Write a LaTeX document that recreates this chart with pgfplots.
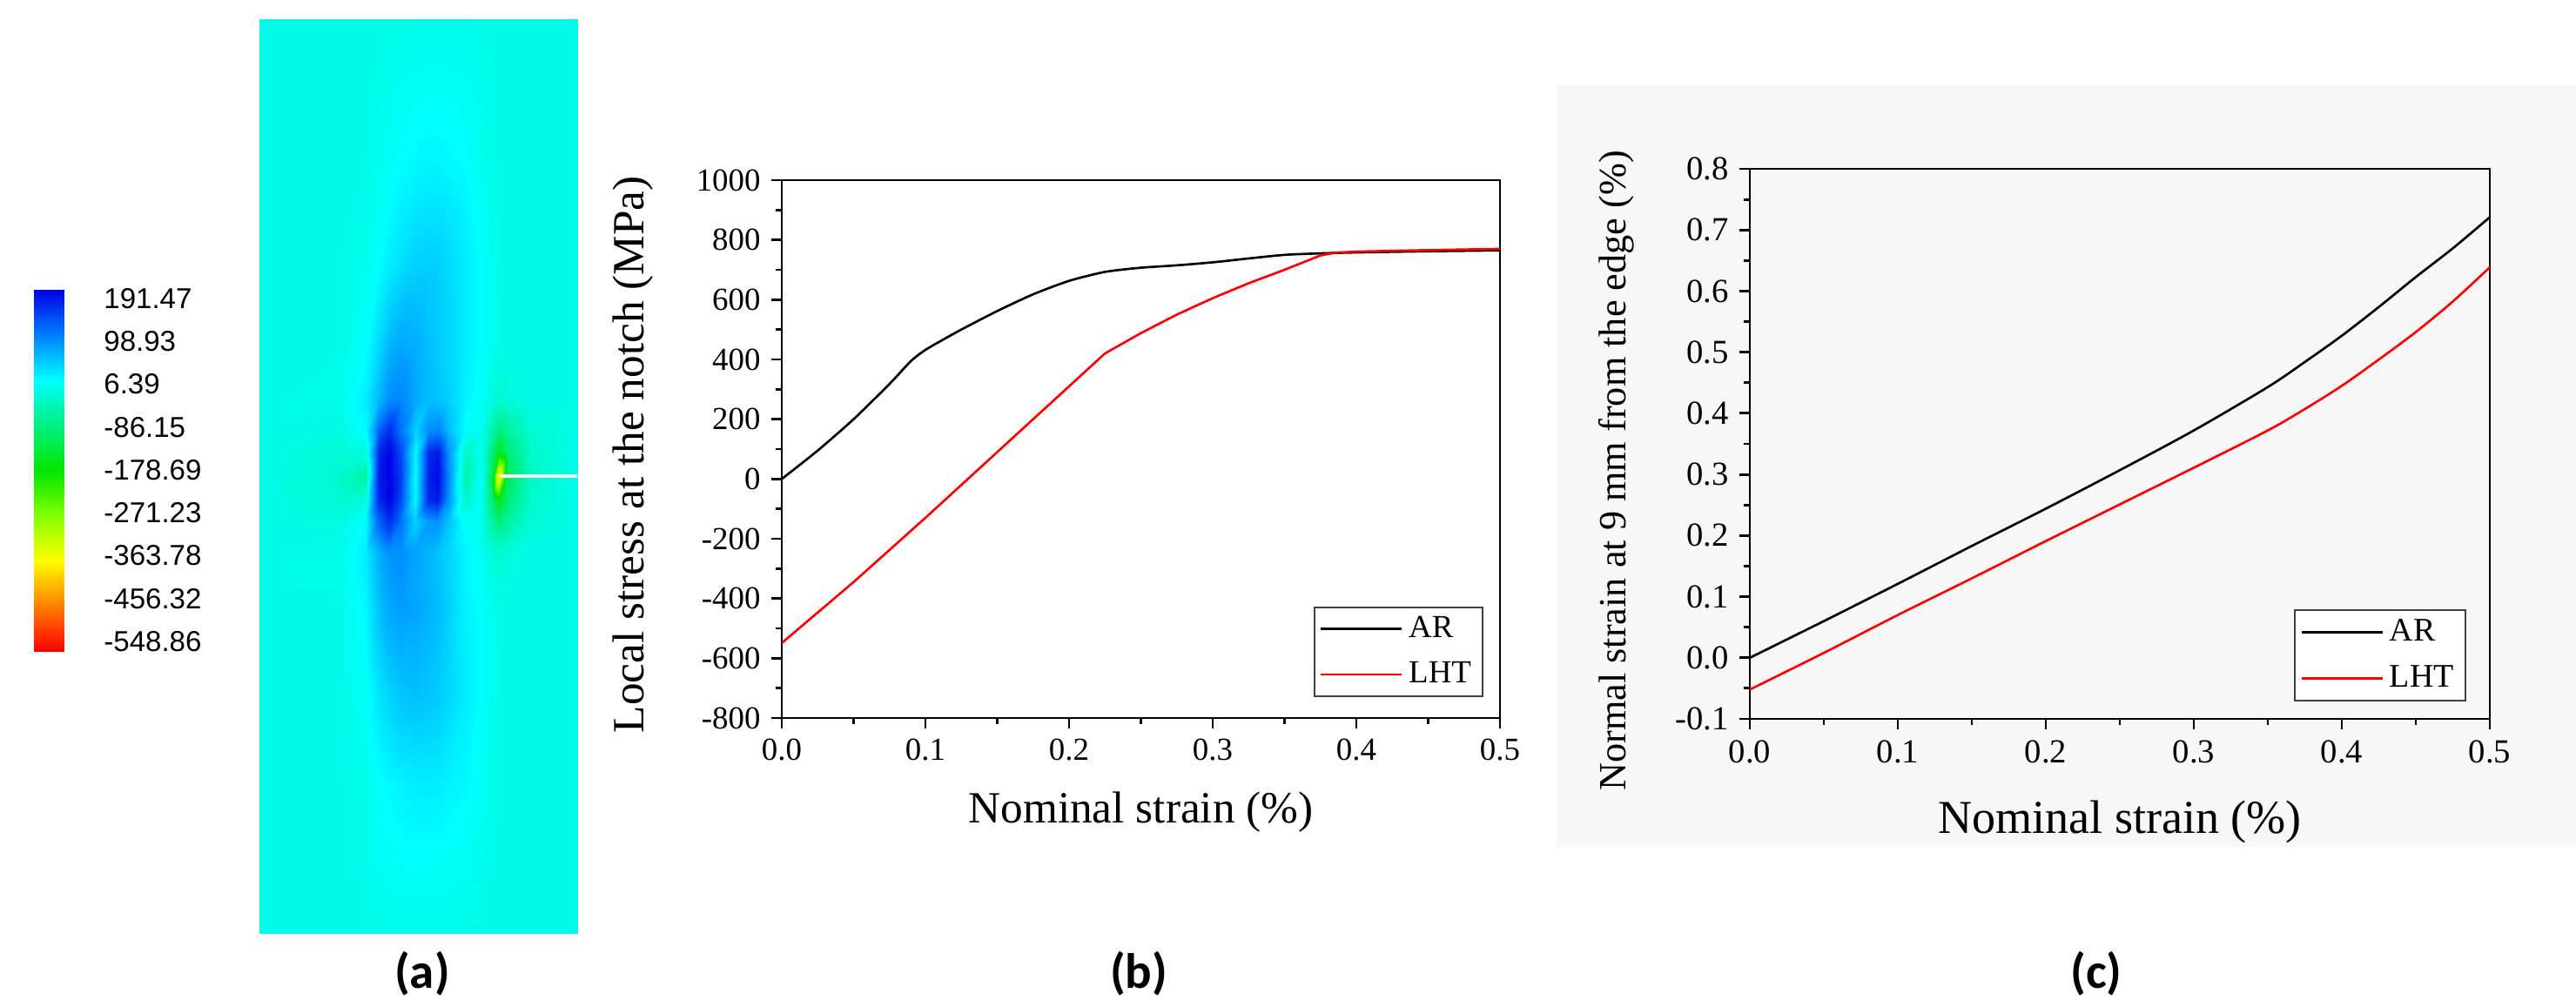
\documentclass[border=0pt]{standalone}
\usepackage{pgfplots}
\pgfplotsset{compat=1.18}
\usepackage{fontspec}
\setmainfont{Liberation Serif}
\newfontfamily\arial{Liberation Sans}
\newfontfamily\calibri{Carlito}

\pgfplotsset{
  colormap={fea}{rgb255=(255,0,0) rgb255=(255,128,0) rgb255=(255,255,0)
    rgb255=(128,255,0) rgb255=(0,230,0) rgb255=(0,240,128)
    rgb255=(0,255,255) rgb255=(0,128,255) rgb255=(0,0,230)},
  strainplot/.style={
    scale only axis, anchor=south west,
    xmin=0, xmax=0.5, xtick={0,0.1,0.2,0.3,0.4,0.5},
    minor tick num=1, tick align=outside,
    xtick pos=left, ytick pos=left,
    axis line style={line width=0.8pt},
    every tick/.append style={black, line width=0.8pt},
    major tick length=0.12cm, minor tick length=0.07cm,
    /pgf/number format/assume math mode=true,
    /pgf/number format/1000 sep={},
    xticklabel style={/pgf/number format/.cd, fixed, fixed zerofill, precision=1},
    legend cell align=left,
    legend image code/.code={\draw[##1, line width=0.75pt] (0cm,0cm) -- (0.93cm,0cm);},
    legend style={anchor=south east, draw=black!75, line width=0.6pt,
      inner xsep=0.06cm, inner ysep=0.03cm, row sep=0.09cm},
  },
}

\begin{document}
\begin{tikzpicture}
\useasboundingbox (0,0) rectangle (29.59,11.48);
\clip (0,0) rectangle (29.59,11.48);

% faint scan background behind panel (c)
\fill[black!3] (17.88,1.75) rectangle (29.59,10.50);

% (a) stress field
\begin{axis}[at={(2.98cm,0.76cm)}, anchor=south west, scale only axis,
  width=3.65cm, height=10.5cm, xmin=298, xmax=663, ymin=22, ymax=1072,
  y dir=reverse, hide axis, colormap name=fea,
  point meta min=-548.86, point meta max=191.47]
\addplot[surf, shader=interp, mesh/cols=17, point meta=explicit] coordinates {
(298,22)[-10] (390,22)[-10] (420,22)[-10] (435,22)[-10] (447,22)[-10] (460,22)[-10] (477,22)[-10] (492,22)[-10] (503,22)[-10] (515,22)[-10] (535,22)[-10] (553,22)[-10] (565,22)[-10] (573,22)[-10] (583,22)[-10] (610,22)[-10] (663,22)[-10]
(298,180)[-10] (390,180)[-10] (420,180)[-10] (435,180)[-5] (447,180)[0] (460,180)[5] (477,180)[10] (492,180)[12] (503,180)[12] (515,180)[10] (535,180)[5] (553,180)[-5] (565,180)[-10] (573,180)[-10] (583,180)[-10] (610,180)[-10] (663,180)[-10]
(298,300)[-10] (390,300)[-10] (420,300)[-5] (435,300)[5] (447,300)[18] (460,300)[28] (477,300)[38] (492,300)[42] (503,300)[40] (515,300)[33] (535,300)[20] (553,300)[5] (565,300)[-5] (573,300)[-10] (583,300)[-10] (610,300)[-10] (663,300)[-10]
(298,400)[-10] (390,400)[-10] (420,400)[5] (435,400)[35] (447,400)[60] (460,400)[72] (477,400)[65] (492,400)[52] (503,400)[45] (515,400)[35] (535,400)[18] (553,400)[5] (565,400)[-5] (573,400)[-10] (583,400)[-10] (610,400)[-10] (663,400)[-10]
(298,460)[-10] (390,460)[-8] (420,460)[20] (435,460)[60] (447,460)[90] (460,460)[95] (477,460)[70] (492,460)[55] (503,460)[50] (515,460)[40] (535,460)[15] (553,460)[0] (565,460)[-20] (573,460)[-30] (583,460)[-20] (610,460)[-10] (663,460)[-10]
(298,495)[-10] (390,495)[-15] (420,495)[10] (435,495)[120] (447,495)[160] (460,495)[110] (477,495)[40] (492,495)[90] (503,495)[95] (515,495)[55] (535,495)[0] (553,495)[-5] (565,495)[-60] (573,495)[-90] (583,495)[-65] (610,495)[-25] (663,495)[-10]
(298,520)[-10] (390,520)[-25] (420,520)[-20] (435,520)[165] (447,520)[191] (460,520)[140] (477,520)[10] (492,520)[160] (503,520)[175] (515,520)[85] (535,520)[-35] (553,520)[0] (565,520)[-95] (573,520)[-160] (583,520)[-95] (610,520)[-30] (663,520)[-10]
(298,547)[-10] (390,547)[-30] (420,547)[-60] (435,547)[170] (447,547)[191] (460,547)[150] (477,547)[5] (492,547)[170] (503,547)[185] (515,547)[95] (535,547)[-60] (553,547)[5] (565,547)[-120] (573,547)[-400] (583,547)[-120] (610,547)[-35] (663,547)[-10]
(298,574)[-10] (390,574)[-25] (420,574)[-20] (435,574)[165] (447,574)[191] (460,574)[140] (477,574)[10] (492,574)[160] (503,574)[175] (515,574)[85] (535,574)[-35] (553,574)[0] (565,574)[-95] (573,574)[-160] (583,574)[-95] (610,574)[-30] (663,574)[-10]
(298,599)[-10] (390,599)[-15] (420,599)[10] (435,599)[120] (447,599)[160] (460,599)[110] (477,599)[40] (492,599)[80] (503,599)[85] (515,599)[50] (535,599)[0] (553,599)[-5] (565,599)[-60] (573,599)[-90] (583,599)[-65] (610,599)[-25] (663,599)[-10]
(298,634)[-10] (390,634)[-8] (420,634)[20] (435,634)[65] (447,634)[85] (460,634)[90] (477,634)[72] (492,634)[60] (503,634)[50] (515,634)[38] (535,634)[12] (553,634)[0] (565,634)[-20] (573,634)[-30] (583,634)[-20] (610,634)[-10] (663,634)[-10]
(298,700)[-10] (390,700)[-10] (420,700)[10] (435,700)[50] (447,700)[70] (460,700)[78] (477,700)[72] (492,700)[62] (503,700)[55] (515,700)[40] (535,700)[15] (553,700)[5] (565,700)[-5] (573,700)[-10] (583,700)[-10] (610,700)[-10] (663,700)[-10]
(298,800)[-10] (390,800)[-10] (420,800)[0] (435,800)[25] (447,800)[38] (460,800)[48] (477,800)[52] (492,800)[48] (503,800)[44] (515,800)[35] (535,800)[20] (553,800)[5] (565,800)[-5] (573,800)[-10] (583,800)[-10] (610,800)[-10] (663,800)[-10]
(298,900)[-10] (390,900)[-10] (420,900)[-8] (435,900)[5] (447,900)[10] (460,900)[15] (477,900)[20] (492,900)[20] (503,900)[20] (515,900)[15] (535,900)[10] (553,900)[0] (565,900)[-8] (573,900)[-10] (583,900)[-10] (610,900)[-10] (663,900)[-10]
(298,1072)[-10] (390,1072)[-10] (420,1072)[-10] (435,1072)[-10] (447,1072)[-10] (460,1072)[-10] (477,1072)[-10] (492,1072)[-10] (503,1072)[-10] (515,1072)[-10] (535,1072)[-10] (553,1072)[-10] (565,1072)[-10] (573,1072)[-10] (583,1072)[-10] (610,1072)[-10] (663,1072)[-10]
};
% the notch
\addplot[white, line width=1.1pt] coordinates {(575,547) (663,547)};
\end{axis}

% colour scale of (a)
\begin{axis}[at={(0.39cm,4.00cm)}, anchor=south west, scale only axis,
  width=0.34cm, height=4.15cm, xmin=0, xmax=1, ymin=-548.86, ymax=191.47,
  colormap name=fea, point meta min=-548.86, point meta max=191.47,
  axis line style={draw=none}, major tick length=0pt, xtick=\empty,
  ytick={173.63,85.77,-2.09,-89.95,-177.81,-265.67,-353.53,-441.39,-529.25},
  yticklabels={191.47,98.93,6.39,-86.15,-178.69,-271.23,-363.78,-456.32,-548.86},
  ytick pos=right, yticklabel pos=right,
  yticklabel style={anchor=west, xshift=0.34cm, font=\arial\fontsize{9.4}{11}\selectfont}]
\addplot[surf, shader=interp, mesh/cols=2, point meta=y] coordinates {
(0,-548.86) (1,-548.86) (0,-456.32) (1,-456.32) (0,-363.78) (1,-363.78)
(0,-271.23) (1,-271.23) (0,-178.69) (1,-178.69) (0,-86.15) (1,-86.15)
(0,6.39) (1,6.39) (0,98.93) (1,98.93) (0,191.47) (1,191.47)};
\end{axis}

% (b) local stress at the notch
\begin{axis}[strainplot, at={(8.98cm,3.23cm)}, width=8.25cm, height=6.18cm,
  ymin=-800, ymax=1000, ytick={-800,-600,-400,-200,0,200,400,600,800,1000},
  tick label style={font=\fontsize{10.5}{12}\selectfont},
  xlabel={Nominal strain (\%)}, ylabel={Local stress at the notch (MPa)},
  xlabel style={at={(axis description cs:0.5,-0.175)}, anchor=center, font=\fontsize{14.6}{17}\selectfont},
  ylabel style={at={(axis description cs:-0.207,0.49)}, anchor=center, font=\fontsize{14.6}{17}\selectfont},
  legend style={at={(axis description cs:0.977,0.039)}, font=\fontsize{10.5}{12}\selectfont}]
\addplot[black, line width=0.75pt, smooth, tension=0.4] coordinates {
(0,0) (0.025,95) (0.05,200) (0.075,318) (0.09,395) (0.1,432) (0.11,460)
(0.125,500) (0.15,562) (0.175,618) (0.2,663) (0.225,693) (0.25,707)
(0.275,715) (0.3,725) (0.325,738) (0.35,750) (0.375,755) (0.4,758)
(0.45,762) (0.5,765)};
\addlegendentry{AR}
\addplot[red, line width=0.75pt] coordinates {
(0,-549) (0.05,-345) (0.1,-130) (0.15,90) (0.2,310) (0.225,420)
(0.25,488) (0.275,550) (0.3,605) (0.325,655) (0.35,700) (0.375,748)
(0.385,757) (0.4,761) (0.45,766) (0.5,770)};
\addlegendentry{LHT}
\end{axis}

% (c) normal strain at 9 mm from the edge
\begin{axis}[strainplot, at={(20.10cm,3.22cm)}, width=8.50cm, height=6.32cm,
  ymin=-0.1, ymax=0.8, ytick={-0.1,0,0.1,0.2,0.3,0.4,0.5,0.6,0.7,0.8},
  yticklabel style={/pgf/number format/.cd, fixed, fixed zerofill, precision=1},
  tick label style={font=\fontsize{11}{13}\selectfont},
  xlabel={Nominal strain (\%)}, ylabel={Normal strain at 9 mm from the edge (\%)},
  xlabel style={at={(axis description cs:0.5,-0.187)}, anchor=center, font=\fontsize{15.4}{18}\selectfont},
  ylabel style={at={(axis description cs:-0.18,0.451)}, anchor=center, font=\fontsize{12.6}{15}\selectfont},
  legend style={at={(axis description cs:0.968,0.032)}, font=\fontsize{10.8}{12}\selectfont}]
\addplot[black, line width=0.75pt, smooth] coordinates {
(0,0) (0.05,0.060) (0.1,0.121) (0.15,0.183) (0.2,0.244) (0.25,0.307)
(0.3,0.372) (0.35,0.443) (0.375,0.484) (0.4,0.527) (0.425,0.574)
(0.45,0.623) (0.475,0.670) (0.5,0.721)};
\addlegendentry{AR}
\addplot[red, line width=0.75pt, smooth] coordinates {
(0,-0.052) (0.05,0.008) (0.1,0.070) (0.15,0.130) (0.2,0.191) (0.25,0.251)
(0.3,0.311) (0.35,0.372) (0.375,0.407) (0.4,0.445) (0.425,0.488)
(0.45,0.533) (0.475,0.583) (0.5,0.639)};
\addlegendentry{LHT}
\end{axis}

% panel letters
\node[anchor=base, font=\calibri\bfseries\fontsize{16.2}{18}\selectfont] at (4.85,0.13) {(a)};
\node[anchor=base, font=\calibri\bfseries\fontsize{16.2}{18}\selectfont] at (13.08,0.13) {(b)};
\node[anchor=base, font=\calibri\bfseries\fontsize{16.2}{18}\selectfont] at (24.08,0.13) {(c)};
\end{tikzpicture}
\end{document}
